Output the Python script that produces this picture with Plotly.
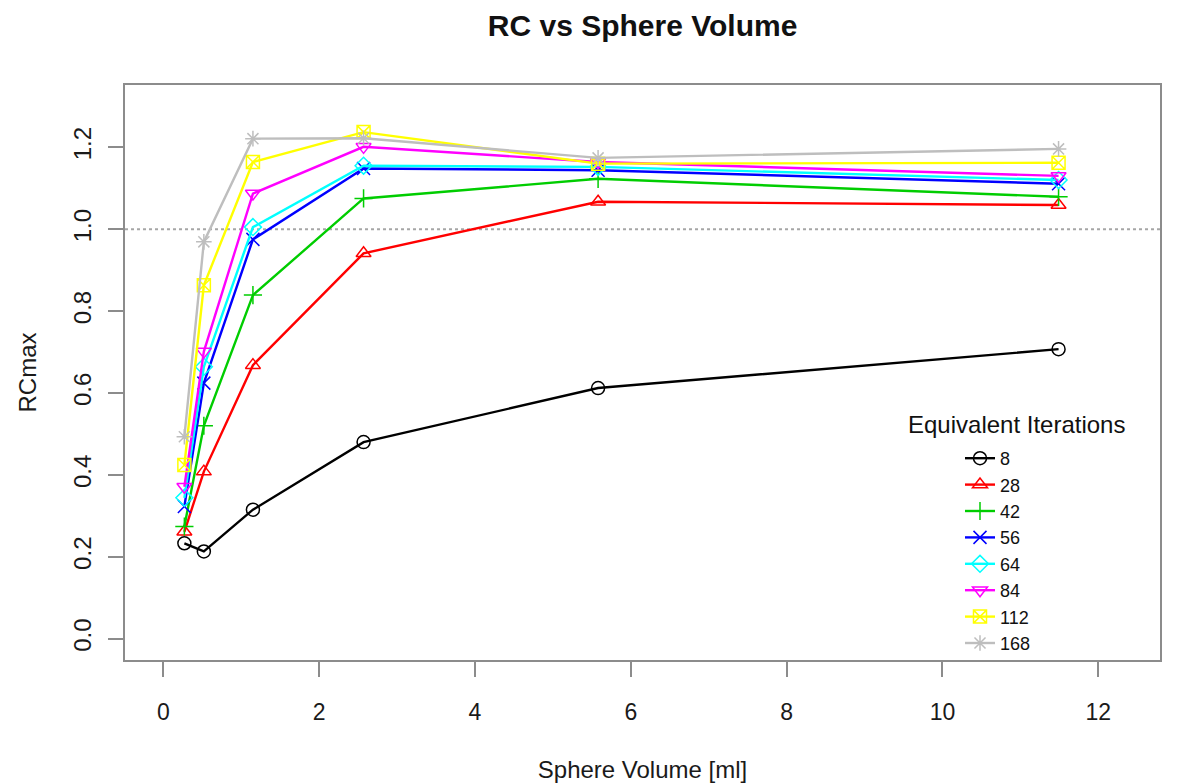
import plotly.graph_objects as go

# ---- data ----
sphere_volume_ml = [0.27, 0.52, 1.15, 2.57, 5.58, 11.49]
iterations = ["8", "28", "42", "56", "64", "84", "112", "168"]
rc_8 = [0.233, 0.213, 0.315, 0.480, 0.612, 0.707]
rc_28 = [0.261, 0.408, 0.668, 0.941, 1.067, 1.059]
rc_42 = [0.274, 0.520, 0.839, 1.075, 1.123, 1.079]
rc_56 = [0.323, 0.624, 0.975, 1.148, 1.144, 1.111]
rc_64 = [0.344, 0.664, 1.005, 1.155, 1.152, 1.120]
rc_84 = [0.371, 0.701, 1.087, 1.201, 1.164, 1.130]
rc_112 = [0.424, 0.863, 1.164, 1.237, 1.160, 1.162]
rc_168 = [0.493, 0.969, 1.221, 1.222, 1.174, 1.196]
series = [rc_8, rc_28, rc_42, rc_56, rc_64, rc_84, rc_112, rc_168]
reference_level = 1.0
x_ticks = [0, 2, 4, 6, 8, 10, 12]
y_ticks = [0.0, 0.2, 0.4, 0.6, 0.8, 1.0, 1.2]
y_tick_text = ["0.0", "0.2", "0.4", "0.6", "0.8", "1.0", "1.2"]

# ---- styles ----
colors = ["#000000", "#FF0000", "#00CD00", "#0000FF", "#00FFFF", "#FF00FF", "#FFFF00", "#BEBEBE"]
symbols = ["circle-open", "triangle-up-open", "cross-thin-open", "x-thin-open",
           "diamond-open", "triangle-down-open", "square-x-open", "asterisk-open"]
FONT = "Liberation Sans, Arial, sans-serif"
AXIS_GRAY = "#8c8c8c"

fig = go.Figure()
for name, vals, col, sym in zip(iterations, series, colors, symbols):
    fig.add_trace(go.Scatter(
        x=sphere_volume_ml, y=vals, name=name, mode="lines+markers",
        line=dict(color=col, width=2.4),
        marker=dict(symbol=sym, size=13, color=col, line=dict(color=col, width=1.5)),
    ))

fig.add_shape(type="line", xref="paper", x0=0, x1=1, yref="y",
              y0=reference_level, y1=reference_level,
              line=dict(color="#a6a6a6", width=2, dash="dot"), layer="below")

fig.update_layout(
    width=1200, height=783,
    margin=dict(l=125, r=40, t=85, b=123),
    paper_bgcolor="white", plot_bgcolor="white",
    font=dict(family=FONT, size=23, color="#1a1a1a"),
    title=dict(text="<b>RC vs Sphere Volume</b>", x=0.5355, xanchor="center",
               y=0.968, yanchor="middle", font=dict(size=30, color="#111111")),
    xaxis=dict(range=[-0.492, 12.792], tickvals=x_ticks, ticktext=[str(v) for v in x_ticks],
               showgrid=False, zeroline=False, showline=True, mirror=True, automargin=False,
               linecolor=AXIS_GRAY, linewidth=2, ticks="outside", ticklen=15,
               tickcolor=AXIS_GRAY, tickwidth=1.5, ticklabelstandoff=15,
               tickfont=dict(size=23),
               title=dict(text="Sphere Volume [ml]", font=dict(size=24), standoff=38)),
    yaxis=dict(range=[-0.052, 1.352], tickvals=y_ticks, ticktext=y_tick_text,
               showgrid=False, zeroline=False, showline=True, mirror=True, automargin=False,
               linecolor=AXIS_GRAY, linewidth=2, ticks="outside", ticklen=15,
               tickcolor=AXIS_GRAY, tickwidth=1.5, tickangle=-90, ticklabelstandoff=7,
               tickfont=dict(size=24),
               title=dict(text="RCmax", font=dict(size=24), standoff=26)),
    legend=dict(x=(960 - 125) / 1035, xanchor="left", y=(660 - 440) / 575, yanchor="top",
                bgcolor="rgba(0,0,0,0)", font=dict(size=18, color="#111111"),
                tracegroupgap=0),
    showlegend=True,
)

fig.add_annotation(text="Equivalent Iterations", xref="paper", yref="paper",
                   x=(1016 - 125) / 1035, y=(660 - 424) / 575, xanchor="center", yanchor="middle",
                   showarrow=False, font=dict(size=24, color="#111111"))

fig.write_html("out.html")
